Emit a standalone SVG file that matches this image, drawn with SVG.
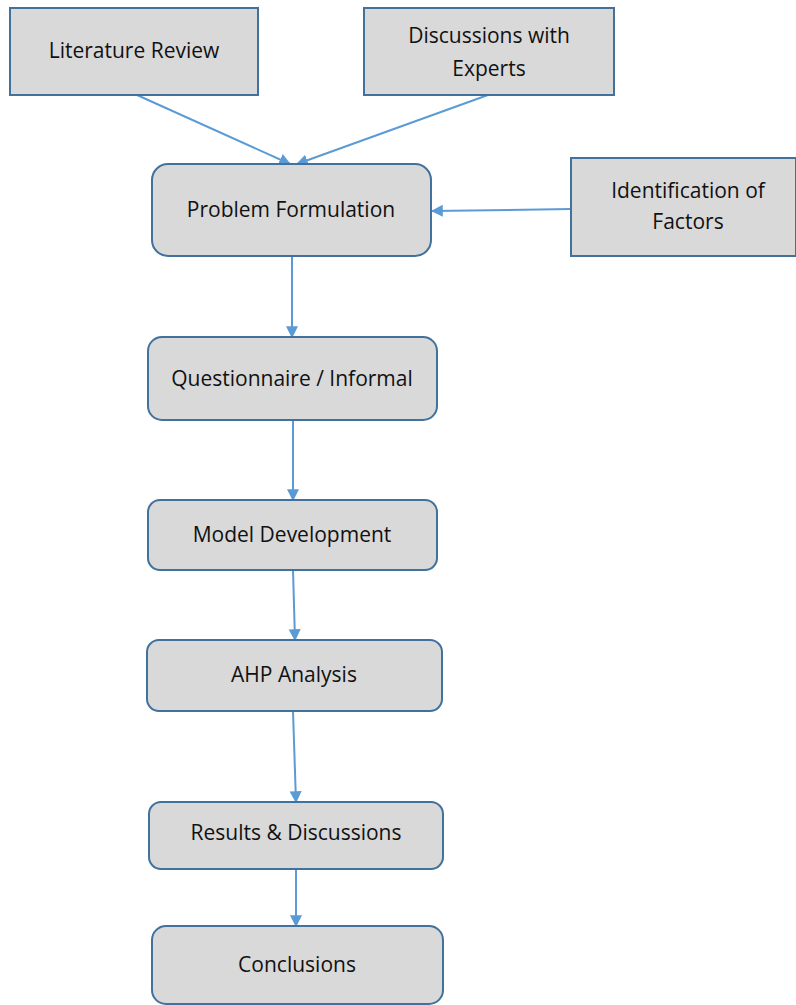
<svg xmlns="http://www.w3.org/2000/svg" width="796" height="1005" viewBox="0 0 796 1005">
<style>
.box{fill:#d9d9d9;stroke:#41719c;stroke-width:2}
.t{font-family:"Open Sans","Liberation Sans",sans-serif;font-size:21px;fill:#111111;text-anchor:middle}
.c{stroke:#5b9bd5;stroke-width:2;fill:none;marker-end:url(#ah)}
</style>
<defs>
<marker id="ah" viewBox="0 0 10 10" refX="9" refY="5" markerWidth="12" markerHeight="13" markerUnits="userSpaceOnUse" orient="auto"><path d="M0,0 L10,5 L0,10 z" fill="#5b9bd5"/></marker>
</defs>
<rect width="796" height="1005" fill="#ffffff"/>
<g id="connectors">
<line class="c" x1="137" y1="95" x2="290" y2="164"/>
<line class="c" x1="488" y1="95" x2="297" y2="164"/>
<line class="c" x1="571" y1="209" x2="432" y2="211"/>
<line class="c" x1="292" y1="256" x2="292" y2="337"/>
<line class="c" x1="293" y1="420" x2="293" y2="500"/>
<line class="c" x1="293" y1="570" x2="295" y2="640"/>
<line class="c" x1="293" y1="711" x2="296" y2="802"/>
<line class="c" x1="296" y1="869" x2="296" y2="926"/>
</g>
<g id="literature-review"><rect class="box" x="10" y="8" width="248" height="87"/><text class="t" x="134" y="58">Literature Review</text></g>
<g id="discussions-experts"><rect class="box" x="364" y="8" width="250" height="87"/><text class="t" x="489" y="43">Discussions with</text><text class="t" x="489" y="76">Experts</text></g>
<g id="problem-formulation"><rect class="box" x="152" y="164" width="279" height="92" rx="16"/><text class="t" x="291" y="217">Problem Formulation</text></g>
<g id="identification-factors"><rect class="box" x="571" y="158" width="225" height="98"/><text class="t" x="688" y="198">Identification of</text><text class="t" x="688" y="229">Factors</text></g>
<g id="questionnaire"><rect class="box" x="148" y="337" width="289" height="83" rx="14"/><text class="t" x="292" y="386">Questionnaire / Informal</text></g>
<g id="model-development"><rect class="box" x="148" y="500" width="289" height="70" rx="12"/><text class="t" x="292" y="542">Model Development</text></g>
<g id="ahp-analysis"><rect class="box" x="147" y="640" width="295" height="71" rx="12"/><text class="t" x="294" y="682">AHP Analysis</text></g>
<g id="results-discussions"><rect class="box" x="149" y="802" width="294" height="67" rx="12"/><text class="t" x="296" y="840">Results &amp; Discussions</text></g>
<g id="conclusions"><rect class="box" x="152" y="926" width="291" height="78" rx="14"/><text class="t" x="297" y="972">Conclusions</text></g>
</svg>
